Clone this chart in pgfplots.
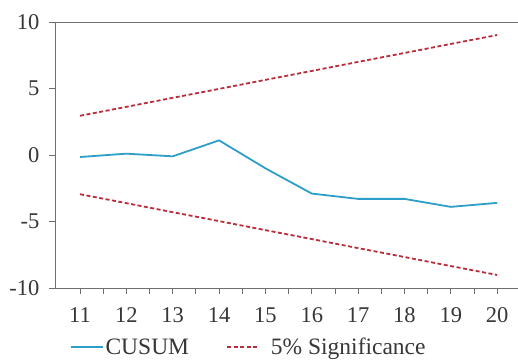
\documentclass[border=0pt]{standalone}
\usepackage{fontspec}
\setmainfont{Liberation Serif}
\usepackage{pgfplots}
\pgfplotsset{compat=1.18}
\definecolor{cusum}{RGB}{45,158,200}
\definecolor{sig}{RGB}{185,45,60}
\definecolor{axgray}{RGB}{110,110,110}
\definecolor{txt}{RGB}{55,55,55}
\pgfplotsset{sigleg/.style={legend image code/.code={\draw[##1] (0pt,0pt) -- (32pt,0pt); \path (41pt,0pt);}}}
\begin{document}
\begin{tikzpicture}[x=1pt,y=1pt]
\path[use as bounding box] (0,0) rectangle (518,359);
\begin{axis}[
  at={(55pt,71pt)}, anchor=south west,
  scale only axis, width=463pt, height=266pt,
  xmin=10.46, xmax=20.45, ymin=-10, ymax=10,
  axis x line*=bottom, axis y line*=left,
  axis line style={axgray, line width=1pt},
  xtick={11,...,20}, minor xtick={11.5,12.5,...,19.5},
  ytick={-10,-5,0,5,10},
  tick align=outside, major tick length=6pt, minor tick length=6pt,
  every tick/.style={axgray, line width=0.8pt},
  ticklabel style={font=\fontsize{22.5}{25}\selectfont, text=txt},
  xticklabel style={yshift=-10pt},
  yticklabel style={xshift=-6pt},
  /pgf/number format/assume math mode=true,
  legend columns=2,
  legend style={draw=none, fill=none, at={(0.025,-0.222)}, anchor=west,
    font=\fontsize{23.5}{25}\selectfont, text=txt,
    /tikz/every even column/.append style={column sep=35pt}},
  legend image code/.code={\draw[#1] (0pt,0pt) -- (32pt,0pt);},
]
\draw[axgray, line width=1pt] (rel axis cs:0,1) -- (rel axis cs:1,1);
\addplot[cusum, line width=1.8pt] coordinates {
 (11,-0.15) (12,0.1) (13,-0.1) (14,1.1) (15,-1.0) (16,-2.9) (17,-3.3) (18,-3.3) (19,-3.9) (20,-3.6)};
\addlegendentry{CUSUM}
\addplot[sig, line width=1.8pt, dash pattern=on 4pt off 2.5pt, sigleg] coordinates {
 (11,2.95) (12,3.62) (13,4.3) (14,4.97) (15,5.65) (16,6.32) (17,7.0) (18,7.67) (19,8.35) (20,9.02)};
\addlegendentry{5\% Significance}
\addplot[sig, line width=1.8pt, dash pattern=on 4pt off 2.5pt, forget plot] coordinates {
 (11,-2.95) (12,-3.62) (13,-4.3) (14,-4.97) (15,-5.65) (16,-6.32) (17,-7.0) (18,-7.67) (19,-8.35) (20,-9.02)};
\end{axis}
\end{tikzpicture}
\end{document}
